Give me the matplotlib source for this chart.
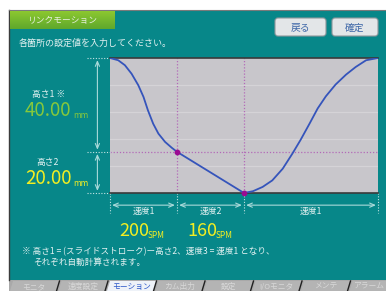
import numpy as np
import matplotlib.pyplot as plt
from matplotlib.patches import Rectangle, FancyBboxPatch, Polygon
import matplotlib.transforms as mtransforms

plt.rcParams['font.family'] = ['Noto Sans CJK JP', 'DejaVu Sans']

# データ (画面から読み取り)
angle = [0, 11, 20, 29, 38, 45, 51, 58, 65, 74, 83, 90,
         180, 192, 205, 218, 232, 245, 256, 268, 279, 290, 303, 317, 330, 344, 360]
height = [60, 59.0, 56.8, 53.0, 47.9, 42.7, 36.7, 30.8, 26.4, 22.7, 20.1, 18.3,
          0, 0.8, 2.7, 5.6, 10.8, 17.5, 23.6, 30.8, 37.6, 43.0, 48.2, 52.6, 56.0, 59.0, 60]
break_x = [90, 180]
break_y = [18.3, 0]
seg_edges = [0, 90, 180, 360]
seg_labels = ["速度1", "速度2", "速度1"]
speed_values = [200, 160]
height1 = 40.00
height2 = 20.00
stroke = 60
grid_levels = [12, 24, 36, 48]
tab_labels = ["モニタ", "速度設定", "モーション", "カム出力", "設定", "I/Oモニタ", "メンテ", "アラーム"]
selected_tab = 2

teal = '#078789'
light = '#e4f2f2'
arrow_col = '#a9dada'
yellow = '#f2ee22'
green = '#86c83c'

W, H = 386, 291
fig = plt.figure(figsize=(W / 100, H / 100), dpi=100)
fig.patch.set_facecolor('white')

# 背景 (ピクセル座標)
bg = fig.add_axes([0, 0, 1, 1])
bg.set_xlim(0, W)
bg.set_ylim(H, 0)
bg.axis('off')

bg.add_patch(Rectangle((9, 10), W - 9, 270, facecolor=teal, edgecolor='none'))
bg.plot([9, 9], [10, 280], color='#3c3c3c', lw=1)
bg.plot([9, W], [10, 10], color='#7a7a7a', lw=0.8)

# タイトルタブ
grad = np.linspace(0, 1, 50).reshape(-1, 1)
bg.imshow(grad, extent=(10, 115, 29, 11), cmap=plt.matplotlib.colors.LinearSegmentedColormap.from_list(
    'g', ['#8cc830', '#5fa82c']), aspect='auto', zorder=2)
bg.text(62, 20, "リンクモーション", color='#e8f0e0', fontsize=6.3, ha='center', va='center', zorder=3)

bg.text(19, 43.5, "各箇所の設定値を入力してください。", color=light, fontsize=6.5, ha='left', va='center')

# ボタン
for x0, w, lab in [(275, 51, "戻る"), (332, 46, "確定")]:
    bg.add_patch(FancyBboxPatch((x0, 18), w, 18, boxstyle="round,pad=0,rounding_size=3",
                                facecolor='#e3e6e8', edgecolor='#8f979c', lw=0.8, zorder=2))
    bg.text(x0 + w / 2, 27.5, lab, color='#3a64a6', fontsize=7, ha='center', va='center', zorder=3)

# 左側ラベル
bg.text(49, 94, "高さ1 ※", color=light, fontsize=6.3, ha='center', va='center')
bg.text(25, 111, f"{height1:.2f}", color=green, fontsize=13.5, ha='left', va='center')
bg.text(73, 118, "mm", color=green, fontsize=6, ha='left', va='baseline')
bg.text(48, 162, "高さ2", color=light, fontsize=6.3, ha='center', va='center')
bg.text(25, 179, f"{height2:.2f}", color=yellow, fontsize=13.5, ha='left', va='center')
bg.text(73, 186, "mm", color=yellow, fontsize=6, ha='left', va='baseline')

# 速度値
for x0, v in zip([119, 187], speed_values):
    bg.text(x0, 231, f"{v}", color=yellow, fontsize=13, ha='left', va='center')
    bg.text(x0 + 29, 238, "SPM", color=yellow, fontsize=6, ha='left', va='baseline')

# 注記
bg.text(22, 252, "※ 高さ1 = (スライドストローク)ー高さ2、速度3 = 速度1 となり、",
        color=light, fontsize=6.2, ha='left', va='center')
bg.text(33, 262, "それぞれ自動計算されます。", color=light, fontsize=6.2, ha='left', va='center')

# 下部タブ
bg.add_patch(Rectangle((9, 280), W - 9, 11, facecolor='#a9a9a9', edgecolor='none'))
tab_w = 48.5
x_start = 8
for i, lab in enumerate(tab_labels):
    xl = x_start + i * tab_w
    sel = i == selected_tab
    fc = '#eef2f8' if sel else '#b4b4b4'
    bg.add_patch(Polygon([(xl + 2, 291), (xl + 5, 281), (xl + tab_w + 3, 281), (xl + tab_w, 291)],
                         closed=True, facecolor=fc, edgecolor='none'))
    bg.plot([xl + tab_w, xl + tab_w + 3], [291, 281], color='#202020', lw=1)
    cx = min(xl + tab_w / 2 + 2, W - 17)
    bg.text(cx, 287, lab, color='#2a56c8' if sel else '#d8d8d8',
            fontsize=5.6, ha='center', va='center')

# グラフ
ax = fig.add_axes([110 / W, (H - 193) / H, 268 / W, 135 / H])
ax.set_facecolor('#c8c6cb')
ax.set_xlim(0, 360)
ax.set_ylim(0, stroke)
for lv in grid_levels:
    ax.axhline(lv, color='#d5d3d7', lw=0.9, zorder=1)
for s in ['left', 'right']:
    ax.spines[s].set_visible(False)
for s in ['top', 'bottom']:
    ax.spines[s].set_color('#3a3a3a')
    ax.spines[s].set_linewidth(1.2)
ax.set_xticks([])
ax.set_yticks([])

dot = dict(color='#b36ab8', lw=0.9, linestyle=(0, (1, 1.5)), zorder=2)
ax.axhline(break_y[0], **dot)
for bx in break_x:
    ax.axvline(bx, **dot)

ax.plot(angle, height, color='#3554bb', lw=1.3, zorder=3)
ax.scatter(break_x, break_y, s=10, color='#9b0b92', zorder=4, clip_on=False)

# 外側の補助線と矢印
tr_x = mtransforms.blended_transform_factory(ax.transData, ax.transAxes)
tr_y = mtransforms.blended_transform_factory(ax.transAxes, ax.transData)
out_dot = dict(color='#c4e4e4', lw=0.8, linestyle=(0, (1, 1.5)), clip_on=False)

for lv in [0, break_y[0], stroke]:
    ax.plot([-0.085, 0], [lv, lv], transform=tr_y, **out_dot)
for ex in seg_edges:
    ax.plot([ex, ex], [0, -0.15], transform=tr_x, **out_dot)

arr = dict(arrowstyle='<->,head_width=0.15,head_length=0.35', color=arrow_col, lw=0.8,
           shrinkA=1.5, shrinkB=1.5)
for lo, hi in [(break_y[0], stroke), (0, break_y[0])]:
    ax.annotate('', xy=(-0.047, lo), xytext=(-0.047, hi), xycoords=tr_y, textcoords=tr_y,
                arrowprops=arr, annotation_clip=False)

for i in range(len(seg_edges) - 1):
    a, b = seg_edges[i], seg_edges[i + 1]
    ax.annotate('', xy=(a, -0.09), xytext=(b, -0.09), xycoords=tr_x, textcoords=tr_x,
                arrowprops=arr, annotation_clip=False)
    ax.text((a + b) / 2, -0.14, seg_labels[i], transform=tr_x, color=light, fontsize=6.3,
            ha='center', va='center')

fig.savefig('out.png', dpi=100)
